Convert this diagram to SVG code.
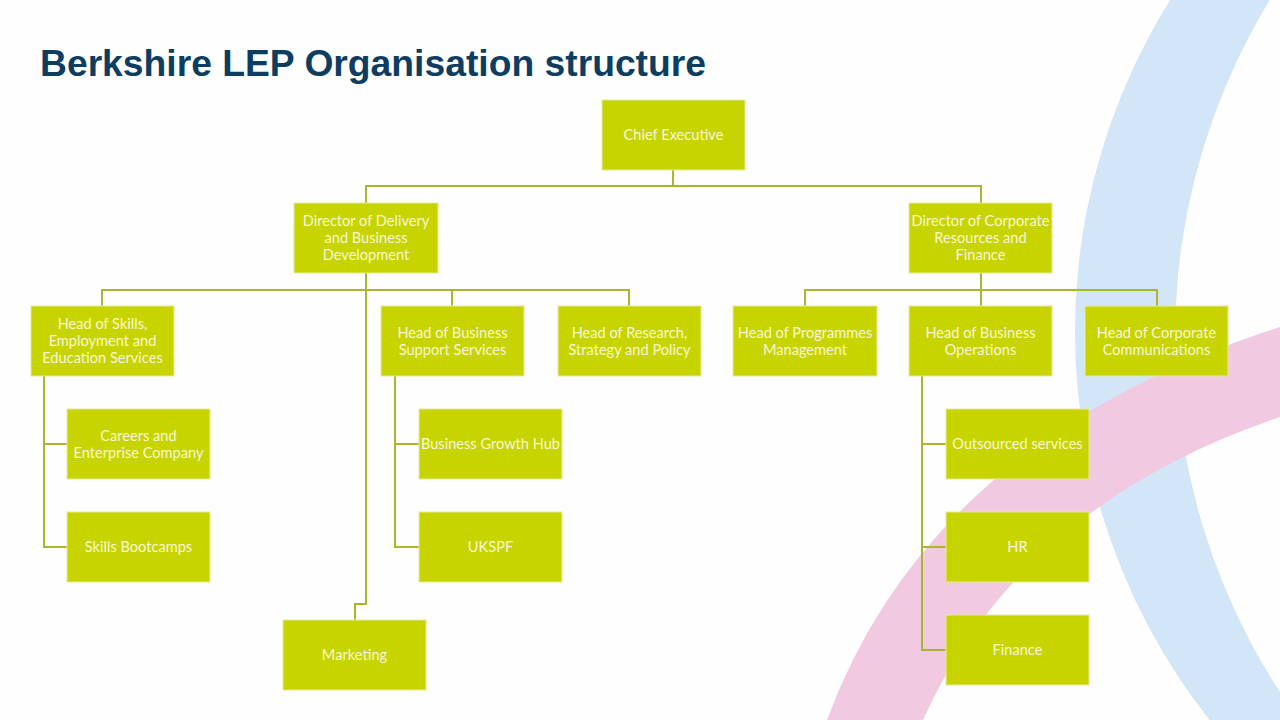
<svg xmlns="http://www.w3.org/2000/svg" width="1280" height="720" viewBox="0 0 1280 720">
  <defs>
    <style>
      .box { fill: #c8d400; stroke: #e4ea9c; stroke-width: 1; }
      .lbl { font-family: Lato, "Open Sans", "Liberation Sans", sans-serif; font-size: 14.6px; fill: #f7f7d6; text-anchor: middle; }
      .conn { fill: none; stroke: #a9b72c; stroke-width: 2; }
      .title { font-family: "Liberation Sans", Arial, sans-serif; font-weight: bold; font-size: 37px; fill: #0d3d61; }
    </style>
  </defs>
  <rect x="0" y="0" width="1280" height="720" fill="#fefefe"/>
  <g id="background">
    <path d="M 1075 332 A 626 626 0 1 0 2327 332 A 626 626 0 1 0 1075 332 Z M 1175 338 A 650 650 0 1 0 2475 338 A 650 650 0 1 0 1175 338 Z" fill="#d3e6f7" fill-rule="evenodd"/>
    <path d="M 827 720 Q 930 440 1280 327 L 1280 417 Q 1020 505 923 720 Z" fill="#f1c9e1"/>
  </g>
  <text class="title" x="40" y="76" textLength="666" lengthAdjust="spacingAndGlyphs">Berkshire LEP Organisation structure</text>
  <g id="connectors">
    <path class="conn" d="M 673 170 V 186 M 366 203 V 186 H 981 V 203"/>
    <path class="conn" d="M 366 273 V 604 H 355 V 620"/>
    <path class="conn" d="M 102 306 V 290 H 629 V 306 M 452 290 V 306"/>
    <path class="conn" d="M 981 273 V 306 M 805 306 V 290 H 1157 V 306"/>
    <path class="conn" d="M 44 376 V 547 H 67 M 44 444 H 67"/>
    <path class="conn" d="M 395 376 V 547 H 419 M 395 444 H 419"/>
    <path class="conn" d="M 922 376 V 650 H 946 M 922 444 H 946 M 922 547 H 946"/>
  </g>
  <g id="chief-executive">
    <rect class="box" x="602" y="100" width="143" height="70"/>
    <text class="lbl" x="673.5" y="135" dy="0.35em">Chief Executive</text>
  </g>
  <g id="director-delivery">
    <rect class="box" x="294" y="203" width="144" height="70"/>
    <text class="lbl" x="366" y="221" dy="0.35em">Director of Delivery</text>
    <text class="lbl" x="366" y="238" dy="0.35em">and Business</text>
    <text class="lbl" x="366" y="255" dy="0.35em">Development</text>
  </g>
  <g id="director-corporate">
    <rect class="box" x="909" y="203" width="143" height="70"/>
    <text class="lbl" x="980.5" y="221" dy="0.35em">Director of Corporate</text>
    <text class="lbl" x="980.5" y="238" dy="0.35em">Resources and</text>
    <text class="lbl" x="980.5" y="255" dy="0.35em">Finance</text>
  </g>
  <g id="head-skills">
    <rect class="box" x="31" y="306" width="143" height="70"/>
    <text class="lbl" x="102.5" y="324" dy="0.35em">Head of Skills,</text>
    <text class="lbl" x="102.5" y="341" dy="0.35em">Employment and</text>
    <text class="lbl" x="102.5" y="358" dy="0.35em">Education Services</text>
  </g>
  <g id="head-business-support">
    <rect class="box" x="381" y="306" width="143" height="70"/>
    <text class="lbl" x="452.5" y="333" dy="0.35em">Head of Business</text>
    <text class="lbl" x="452.5" y="350" dy="0.35em">Support Services</text>
  </g>
  <g id="head-research">
    <rect class="box" x="558" y="306" width="143" height="70"/>
    <text class="lbl" x="629.5" y="333" dy="0.35em">Head of Research,</text>
    <text class="lbl" x="629.5" y="350" dy="0.35em">Strategy and Policy</text>
  </g>
  <g id="head-programmes">
    <rect class="box" x="733" y="306" width="144" height="70"/>
    <text class="lbl" x="805" y="333" dy="0.35em">Head of Programmes</text>
    <text class="lbl" x="805" y="350" dy="0.35em">Management</text>
  </g>
  <g id="head-business-operations">
    <rect class="box" x="909" y="306" width="143" height="70"/>
    <text class="lbl" x="980.5" y="333" dy="0.35em">Head of Business</text>
    <text class="lbl" x="980.5" y="350" dy="0.35em">Operations</text>
  </g>
  <g id="head-corporate-comms">
    <rect class="box" x="1085" y="306" width="143" height="70"/>
    <text class="lbl" x="1156.5" y="333" dy="0.35em">Head of Corporate</text>
    <text class="lbl" x="1156.5" y="350" dy="0.35em">Communications</text>
  </g>
  <g id="careers">
    <rect class="box" x="67" y="409" width="143" height="70"/>
    <text class="lbl" x="138.5" y="436" dy="0.35em">Careers and</text>
    <text class="lbl" x="138.5" y="453" dy="0.35em">Enterprise Company</text>
  </g>
  <g id="skills-bootcamps">
    <rect class="box" x="67" y="512" width="143" height="70"/>
    <text class="lbl" x="138.5" y="547" dy="0.35em">Skills Bootcamps</text>
  </g>
  <g id="business-growth-hub">
    <rect class="box" x="419" y="409" width="143" height="70"/>
    <text class="lbl" x="490.5" y="444" dy="0.35em">Business Growth Hub</text>
  </g>
  <g id="ukspf">
    <rect class="box" x="419" y="512" width="143" height="70"/>
    <text class="lbl" x="490.5" y="547" dy="0.35em">UKSPF</text>
  </g>
  <g id="outsourced">
    <rect class="box" x="946" y="409" width="143" height="70"/>
    <text class="lbl" x="1017.5" y="444" dy="0.35em">Outsourced services</text>
  </g>
  <g id="hr">
    <rect class="box" x="946" y="512" width="143" height="70"/>
    <text class="lbl" x="1017.5" y="547" dy="0.35em">HR</text>
  </g>
  <g id="finance">
    <rect class="box" x="946" y="615" width="143" height="70"/>
    <text class="lbl" x="1017.5" y="650" dy="0.35em">Finance</text>
  </g>
  <g id="marketing">
    <rect class="box" x="283" y="620" width="143" height="70"/>
    <text class="lbl" x="354.5" y="655" dy="0.35em">Marketing</text>
  </g>
</svg>
